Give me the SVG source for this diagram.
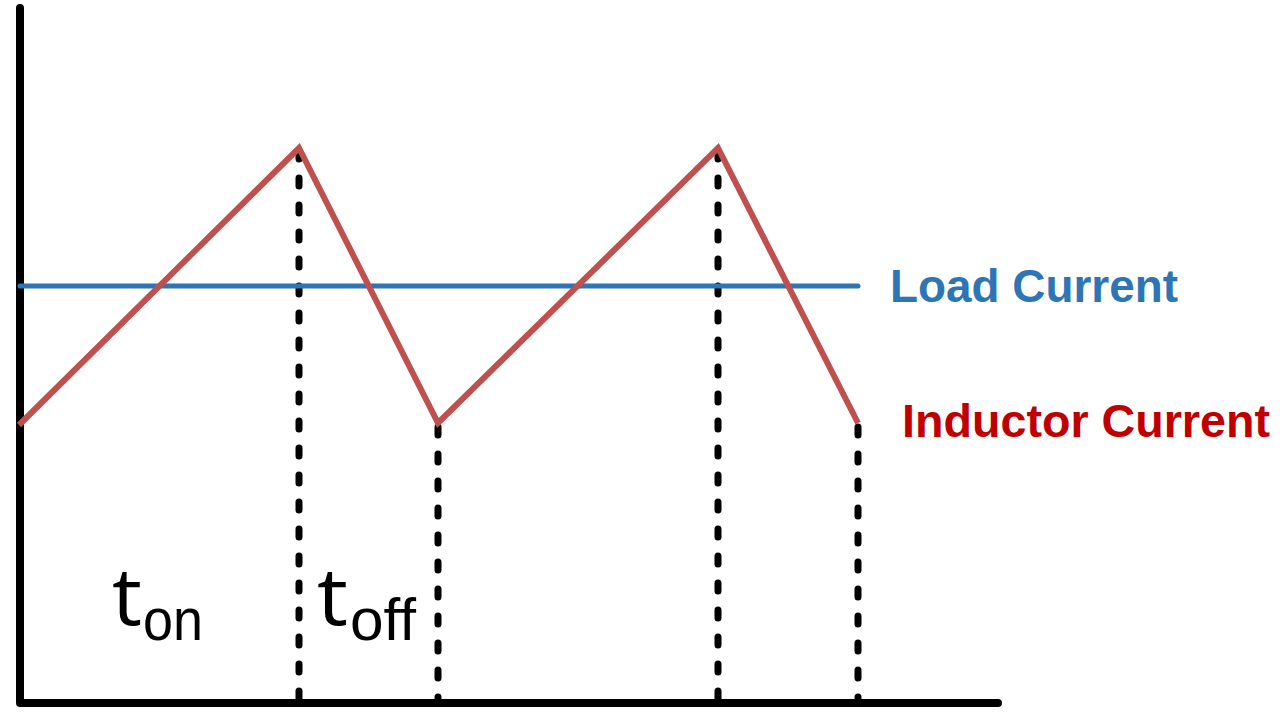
<svg xmlns="http://www.w3.org/2000/svg" width="1280" height="719" viewBox="0 0 1280 719">
<style>
.axis{stroke:#000;stroke-width:8;fill:none;stroke-linecap:round;stroke-linejoin:round}
.guide{stroke:#000;stroke-width:7;fill:none;stroke-dasharray:8 19;stroke-linecap:round}
.ind{stroke:#C0504D;stroke-width:6;fill:none;stroke-linejoin:miter}
.load{stroke:#2E75B6;stroke-width:5;fill:none;stroke-linecap:round}
.lbl{font-family:"Liberation Sans",Arial,sans-serif;font-weight:bold;font-size:46px}
.t{font-family:"Open Sans","Liberation Sans",sans-serif;fill:#000;font-size:80px}
.sub{font-family:"Liberation Sans",Arial,sans-serif;fill:#000;font-size:60px}
</style>
<rect width="1280" height="719" fill="#fff"/>
<g id="axes">
<path class="axis" d="M20,8 L20,703 L998,703"/>
</g>
<g id="connectors">
<line class="guide" x1="299" y1="151" x2="299" y2="700"/>
<line class="guide" x1="438" y1="427" x2="438" y2="700"/>
<line class="guide" x1="718" y1="151" x2="718" y2="700"/>
<line class="guide" x1="858" y1="427" x2="858" y2="700"/>
</g>
<g id="load-current">
<line class="load" x1="20" y1="286" x2="858" y2="286"/>
<text class="lbl" x="890" y="302" fill="#2E75B6" textLength="288" lengthAdjust="spacingAndGlyphs">Load Current</text>
</g>
<g id="inductor-current">
<polyline class="ind" points="19,425 299,148 438,423 718,148 858,423"/>
<text class="lbl" x="902" y="437" fill="#C00000" textLength="368" lengthAdjust="spacingAndGlyphs">Inductor Current</text>
</g>
<g id="ton">
<text class="t" x="112" y="625" textLength="30" lengthAdjust="spacingAndGlyphs">t</text>
<text class="sub" x="143" y="640" textLength="60" lengthAdjust="spacingAndGlyphs">on</text>
</g>
<g id="toff">
<text class="t" x="317" y="625" textLength="31" lengthAdjust="spacingAndGlyphs">t</text>
<text class="sub" x="350" y="640" textLength="66" lengthAdjust="spacingAndGlyphs">off</text>
</g>
</svg>
